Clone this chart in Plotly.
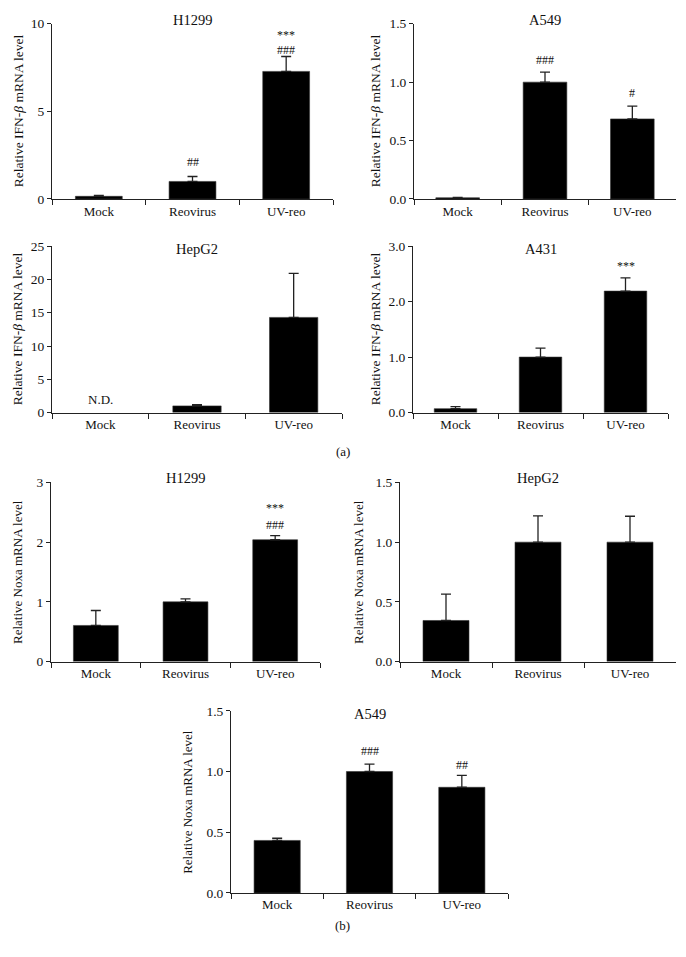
import plotly.graph_objects as go

W, H = 686, 957
FONT = "Liberation Serif"

categories = ["Mock", "Reovirus", "UV-reo"]

# (a) IFN-beta
ifn_h1299_mean = [0.15, 1.0, 7.28]
ifn_h1299_err = [0.05, 0.28, 0.85]
ifn_a549_mean = [0.01, 1.0, 0.685]
ifn_a549_err = [0.004, 0.085, 0.11]
ifn_hepg2_mean = [None, 1.0, 14.3]
ifn_hepg2_err = [None, 0.17, 6.6]
ifn_a431_mean = [0.07, 1.0, 2.19]
ifn_a431_err = [0.035, 0.16, 0.24]

# (b) Noxa
noxa_h1299_mean = [0.605, 1.0, 2.04]
noxa_h1299_err = [0.25, 0.05, 0.07]
noxa_hepg2_mean = [0.344, 1.0, 1.0]
noxa_hepg2_err = [0.22, 0.22, 0.217]
noxa_a549_mean = [0.432, 1.0, 0.87]
noxa_a549_err = [0.018, 0.06, 0.098]

IFN_TITLE = "Relative IFN-<i>β</i> mRNA level"
NOXA_TITLE = "Relative Noxa mRNA level"

# name, means, errs, ymax, dtick, tickformat, ytitle, px box (x0, x1, ytop, ybottom),
# title y px, y-title offset px, marks
panels = [
    ("H1299", ifn_h1299_mean, ifn_h1299_err, 10, 5, "d", IFN_TITLE, (52, 333, 17, 195), 13, 34,
     [(2, 9.36, "***"), (2, 8.48, "###"), (1, 2.13, "##")]),
    ("A549", ifn_a549_mean, ifn_a549_err, 1.5, 0.5, ".1f", IFN_TITLE, (414, 676, 17, 195), 13, 39,
     [(1, 1.188, "###"), (2, 0.91, "#")]),
    ("HepG2", ifn_hepg2_mean, ifn_hepg2_err, 25, 5, "d", IFN_TITLE, (52, 342, 243, 412), 246, 35,
     [(0, 1.9, "N.D.")]),
    ("A431", ifn_a431_mean, ifn_a431_err, 3.0, 1.0, ".1f", IFN_TITLE, (413, 668, 243, 412), 246, 38,
     [(2, 2.645, "***")]),
    ("H1299", noxa_h1299_mean, noxa_h1299_err, 3, 1, "d", NOXA_TITLE, (51, 320, 483, 665), 478, 34,
     [(2, 2.58, "***"), (2, 2.29, "###")]),
    ("HepG2", noxa_hepg2_mean, noxa_hepg2_err, 1.5, 0.5, ".1f", NOXA_TITLE, (400, 676, 483, 665), 478, 42,
     []),
    ("A549", noxa_a549_mean, noxa_a549_err, 1.5, 0.5, ".1f", NOXA_TITLE, (231, 508, 715, 900), 718, 43,
     [(1, 1.168, "###"), (2, 1.054, "##")]),
]

fig = go.Figure()
annotations = []
AX = "#222222"
TXT = "#111111"

for i, (name, means, errs, ymax, dtick, fmt, ytitle, box, ty, toff, marks) in enumerate(panels, start=1):
    x0, x1, yt, yb = box
    xa = "x" if i == 1 else f"x{i}"
    ya = "y" if i == 1 else f"y{i}"
    fig.add_trace(go.Bar(
        x=categories, y=means, xaxis=xa, yaxis=ya, width=0.5,
        marker=dict(color="black", line=dict(color="#333333", width=0.6)),
        error_y=dict(type="data", symmetric=False, array=errs,
                     arrayminus=[0 if e is not None else None for e in errs],
                     color="#222222", thickness=1.3, width=5),
        showlegend=False, hoverinfo="skip",
    ))
    xdom = [x0 / W, x1 / W]
    ydom = [1 - yb / H, 1 - yt / H]
    xkey = "xaxis" if i == 1 else f"xaxis{i}"
    ykey = "yaxis" if i == 1 else f"yaxis{i}"
    fig.update_layout(**{
        xkey: dict(domain=xdom, anchor=ya, type="category", range=[-0.5, 2.5],
                   showline=True, linecolor=AX, linewidth=1, ticks="outside",
                   tickson="boundaries", ticklen=5, tickcolor=AX, showgrid=False,
                   fixedrange=True,
                   tickfont=dict(family=FONT, size=13, color=TXT)),
        ykey: dict(domain=ydom, anchor=xa, range=[0, ymax], dtick=dtick, tick0=0,
                   tickformat=fmt, showline=True, linecolor=AX, linewidth=1,
                   ticks="outside", ticklen=4, tickcolor=AX, showgrid=False,
                   zeroline=False, fixedrange=True,
                   tickfont=dict(family=FONT, size=13.5, color=TXT)),
    })
    # panel title
    annotations.append(dict(text=name, x=(x0 + x1) / 2 / W, y=1 - ty / H,
                            xref="paper", yref="paper", showarrow=False,
                            xanchor="center", yanchor="middle",
                            font=dict(family=FONT, size=14.5, color=TXT)))
    # y axis title
    annotations.append(dict(text=ytitle, x=(x0 - toff) / W, y=1 - (yt + yb) / 2 / H,
                            xref="paper", yref="paper", showarrow=False, textangle=-90,
                            xanchor="center", yanchor="middle",
                            font=dict(family=FONT, size=13.5 if ytitle == IFN_TITLE else 13,
                                      color=TXT)))
    for (ci, yv, txt) in marks:
        annotations.append(dict(text=txt, x=categories[ci], y=yv, xref=xa, yref=ya,
                                showarrow=False, xanchor="center", yanchor="middle",
                                font=dict(family=FONT, size=12 if txt != "N.D." else 13,
                                          color=TXT)))

annotations.append(dict(text="(a)", x=343 / W, y=1 - 452 / H, xref="paper", yref="paper",
                        showarrow=False, font=dict(family=FONT, size=13, color=TXT)))
annotations.append(dict(text="(b)", x=342 / W, y=1 - 943 / H, xref="paper", yref="paper",
                        showarrow=False, font=dict(family=FONT, size=13, color=TXT)))

fig.update_layout(width=W, height=H, margin=dict(l=0, r=0, t=0, b=0),
                  paper_bgcolor="white", plot_bgcolor="white",
                  annotations=annotations, bargap=0.5, hovermode=False)

fig.write_html("out.html", config={"displayModeBar": False, "staticPlot": True},
               post_script="document.body.style.margin='0';")
